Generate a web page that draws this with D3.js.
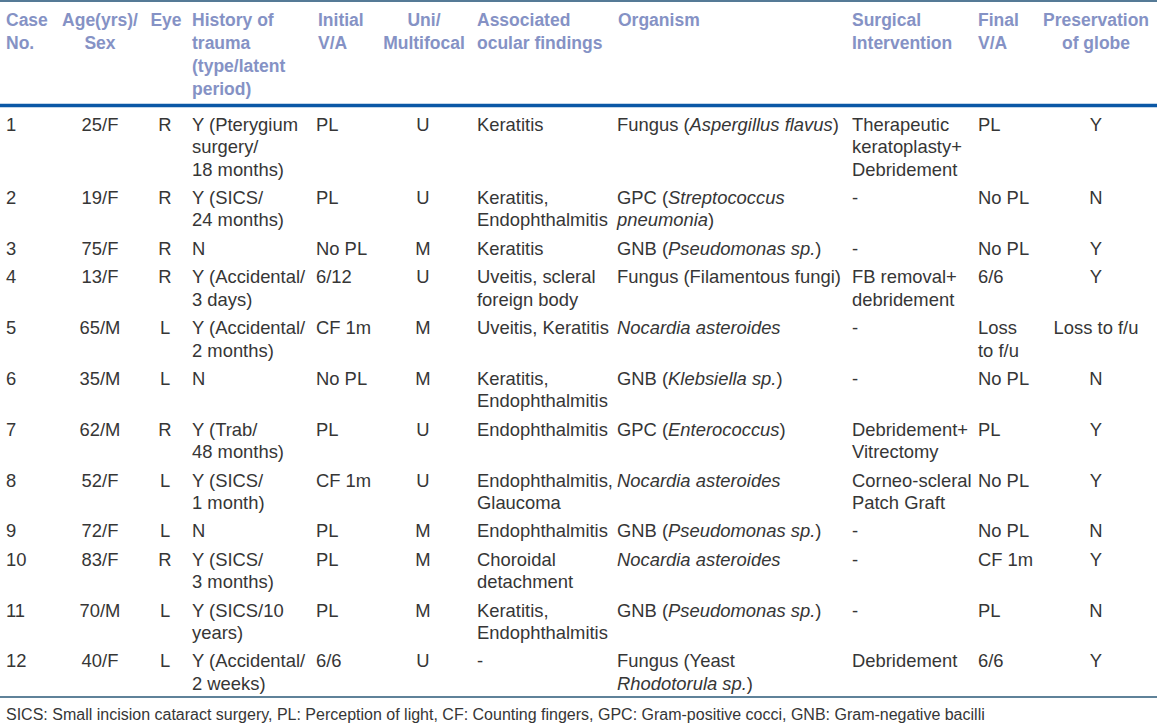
<!DOCTYPE html>
<html>
<head>
<meta charset="utf-8">
<script src="https://cdn.jsdelivr.net/npm/d3@7"></script>
<style>
  body { margin: 0; background: #fff; }
  svg { display: block; font-family: Arial, "Liberation Sans", sans-serif; }
</style>
</head>
<body>
<svg id="table" width="1157" height="724"></svg>
<script>
// table content, one array per column
var headers = [["Case", "No."], ["Age(yrs)/", "Sex"], ["Eye"], ["History of", "trauma", "(type/latent", "period)"],
  ["Initial", "V/A"], ["Uni/", "Multifocal"], ["Associated", "ocular findings"], ["Organism"],
  ["Surgical", "Intervention"], ["Final", "V/A"], ["Preservation", "of globe"]];

var caseNo = ["1", "2", "3", "4", "5", "6", "7", "8", "9", "10", "11", "12"];
var ageSex = ["25/F", "19/F", "75/F", "13/F", "65/M", "35/M", "62/M", "52/F", "72/F", "83/F", "70/M", "40/F"];
var eye = ["R", "R", "R", "R", "L", "L", "R", "L", "L", "R", "L", "L"];
var traumaHistory = [["Y (Pterygium", "surgery/", "18 months)"], ["Y (SICS/", "24 months)"], ["N"], ["Y (Accidental/", "3 days)"],
  ["Y (Accidental/", "2 months)"], ["N"], ["Y (Trab/", "48 months)"], ["Y (SICS/", "1 month)"], ["N"],
  ["Y (SICS/", "3 months)"], ["Y (SICS/10", "years)"], ["Y (Accidental/", "2 weeks)"]];
var initialVA = ["PL", "PL", "No PL", "6/12", "CF 1m", "No PL", "PL", "CF 1m", "PL", "PL", "PL", "6/6"];
var focality = ["U", "U", "M", "U", "M", "M", "U", "U", "M", "M", "M", "U"];
var findings = [["Keratitis"], ["Keratitis,", "Endophthalmitis"], ["Keratitis"], ["Uveitis, scleral", "foreign body"],
  ["Uveitis, Keratitis"], ["Keratitis,", "Endophthalmitis"], ["Endophthalmitis"], ["Endophthalmitis,", "Glaucoma"],
  ["Endophthalmitis"], ["Choroidal", "detachment"], ["Keratitis,", "Endophthalmitis"], ["-"]];
// _..._ marks italic
var organism = [["Fungus (_Aspergillus flavus_)"], ["GPC (_Streptococcus_", "_pneumonia_)"], ["GNB (_Pseudomonas sp._)"],
  ["Fungus (Filamentous fungi)"], ["_Nocardia asteroides_"], ["GNB (_Klebsiella sp._)"], ["GPC (_Enterococcus_)"],
  ["_Nocardia asteroides_"], ["GNB (_Pseudomonas sp._)"], ["_Nocardia asteroides_"], ["GNB (_Pseudomonas sp._)"],
  ["Fungus (Yeast", "_Rhodotorula sp._)"]];
var surgery = [["Therapeutic", "keratoplasty+", "Debridement"], ["-"], ["-"], ["FB removal+", "debridement"], ["-"], ["-"],
  ["Debridement+", "Vitrectomy"], ["Corneo-scleral", "Patch Graft"], ["-"], ["-"], ["-"], ["Debridement"]];
var finalVA = [["PL"], ["No PL"], ["No PL"], ["6/6"], ["Loss", "to f/u"], ["No PL"], ["PL"], ["No PL"], ["No PL"],
  ["CF 1m"], ["PL"], ["6/6"]];
var globe = ["Y", "N", "Y", "Y", "Loss to f/u", "N", "Y", "Y", "N", "Y", "N", "Y"];

var footnote = "SICS: Small incision cataract surgery, PL: Perception of light, CF: Counting fingers, GPC: Gram-positive cocci, GNB: Gram-negative bacilli";

var columns = [caseNo, ageSex, eye, traumaHistory, initialVA, focality, findings, organism, surgery, finalVA, globe];

// layout of the columns: x anchor and alignment
var colX = [6, 100, 165, 192, 316, 423, 477, 617, 852, 978, 1096];
var colHeadX = [6, 100, 166, 192, 318, 424, 477, 618, 852, 978, 1096];
var colAnchor = ["start", "middle", "middle", "start", "start", "middle", "start", "start", "start", "start", "middle"];

var svg = d3.select("#table");
var bodyColor = "#363636";
var headColor = "#8592c5";

var toLines = function(v) { return Array.isArray(v) ? v : [v]; };

// row heights in line units
var rowPad = 0.26;
var rowLines = caseNo.map(function(d, i) {
  return d3.max(columns, function(col) { return toLines(col[i]).length; });
});
var rowStart = [];
var acc = 0;
rowLines.forEach(function(n) { rowStart.push(acc); acc += n + rowPad; });

var y = d3.scaleLinear().domain([0, 1]).range([124, 146.5]);
var yHead = d3.scaleLinear().domain([0, 1]).range([20, 43]);

// rules
svg.append("line").attr("x1", 0).attr("x2", 1157).attr("y1", 1).attr("y2", 1)
  .attr("stroke", "#1c4e73").attr("stroke-width", 1.5);
svg.append("line").attr("x1", 0).attr("x2", 1157).attr("y1", 105.5).attr("y2", 105.5)
  .attr("stroke", "#0b58a6").attr("stroke-width", 3.5);
svg.append("line").attr("x1", 0).attr("x2", 1157).attr("y1", 697).attr("y2", 697)
  .attr("stroke", "#2a5877").attr("stroke-width", 1.5);

// header
headers.forEach(function(h, c) {
  var t = svg.append("text")
    .attr("text-anchor", colAnchor[c])
    .style("font-size", "17.5px")
    .style("font-weight", "bold")
    .attr("fill", headColor);
  t.selectAll("tspan").data(h).enter().append("tspan")
    .attr("x", colHeadX[c])
    .attr("y", function(d, i) { return yHead(i); })
    .attr("dy", "0.36em")
    .text(function(d) { return d; });
});

// body cells
var addLine = function(textEl, line, x, yy) {
  var parts = line.split("_");
  var first = true;
  parts.forEach(function(p, k) {
    if (p === "") return;
    var ts = textEl.append("tspan").text(p).attr("font-style", k % 2 ? "italic" : "normal");
    if (first) { ts.attr("x", x).attr("y", yy).attr("dy", "0.36em"); first = false; }
  });
};

columns.forEach(function(col, c) {
  col.forEach(function(v, r) {
    toLines(v).forEach(function(line, li) {
      var t = svg.append("text")
        .attr("text-anchor", colAnchor[c])
        .style("font-size", "18.4px")
        .attr("fill", bodyColor);
      addLine(t, line, colX[c], y(rowStart[r] + li));
    });
  });
});

svg.append("text")
  .attr("x", 6).attr("y", 714).attr("dy", "0.36em")
  .style("font-size", "16px")
  .attr("fill", bodyColor)
  .text(footnote);
</script>
</body>
</html>
